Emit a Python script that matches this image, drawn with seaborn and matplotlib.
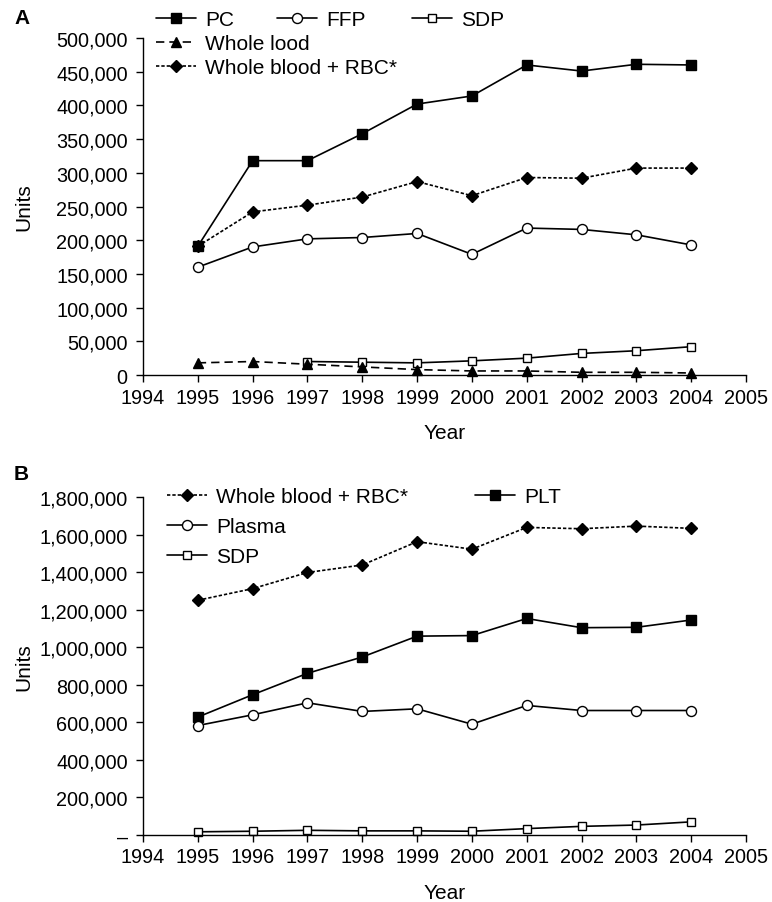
import numpy as np
import pandas as pd
import matplotlib
matplotlib.use("Agg")
import matplotlib.pyplot as plt
import seaborn as sns
from matplotlib.lines import Line2D
from matplotlib.ticker import FuncFormatter

years = [1995, 1996, 1997, 1998, 1999, 2000, 2001, 2002, 2003, 2004]

# Panel A
a_pc = [191000, 318000, 318000, 358000, 402000, 414000, 460000, 451000, 461000, 460000]
a_ffp = [160000, 190000, 202000, 204000, 210000, 179000, 218000, 216000, 208000, 193000]
a_sdp_years = [1997, 1998, 1999, 2000, 2001, 2002, 2003, 2004]
a_sdp = [20000, 19000, 18000, 21000, 25000, 32000, 36000, 42000]
a_whole = [18000, 20000, 16000, 12000, 8000, 6000, 6000, 4000, 4000, 3000]
a_wbrbc = [191000, 242000, 252000, 264000, 287000, 266000, 293000, 292000, 307000, 307000]

# Panel B
b_wbrbc = [1250000, 1312000, 1398000, 1438000, 1562000, 1522000, 1638000, 1631000, 1645000, 1633000]
b_plt = [628000, 747000, 861000, 948000, 1059000, 1062000, 1153000, 1104000, 1106000, 1145000]
b_plasma = [583000, 640000, 704000, 658000, 672000, 590000, 690000, 663000, 663000, 663000]
b_sdp = [17000, 20000, 25000, 22000, 22000, 20000, 34000, 46000, 53000, 70000]

xticks = list(range(1994, 2006))

sns.set_style("ticks")
plt.rcParams['font.family'] = ['Liberation Sans', 'DejaVu Sans']
for k in ["text.color", "axes.labelcolor", "xtick.color", "ytick.color", "axes.edgecolor"]:
    plt.rcParams[k] = "black"

W, H = 772, 903
fig = plt.figure(figsize=(W / 100, H / 100), dpi=100)
axA = fig.add_axes([143 / W, 1 - 376 / H, 603 / W, 337 / H])
axB = fig.add_axes([143 / W, 1 - 836 / H, 603 / W, 338 / H])

lw = 1.2
FS = 14.3
LFS = 15

STY = {
    "sq_fill": dict(marker="s", markersize=6.8, markerfacecolor="black"),
    "circle": dict(marker="o", markersize=7.2, markerfacecolor="white"),
    "sq_open": dict(marker="s", markersize=6.2, markerfacecolor="white"),
    "tri": dict(marker="^", markersize=7.2, markerfacecolor="black"),
    "dia": dict(marker="D", markersize=6.3, markerfacecolor="black"),
}

dotted = (0, (2, 1.2))
dashed = (0, (5, 3))

def draw(ax, x, y, label, sty, ls):
    df = pd.DataFrame({"Year": x, "Units": y})
    sns.lineplot(data=df, x="Year", y="Units", ax=ax, color="black",
                 markeredgecolor="black", markeredgewidth=1.0, linestyle=ls,
                 linewidth=lw, label=label, clip_on=False, legend=False, **STY[sty])

# Panel A
draw(axA, years, a_pc, "PC", "sq_fill", "-")
draw(axA, years, a_ffp, "FFP", "circle", "-")
draw(axA, a_sdp_years, a_sdp, "SDP", "sq_open", "-")
draw(axA, years, a_whole, "Whole lood", "tri", dashed)
draw(axA, years, a_wbrbc, "Whole blood + RBC*", "dia", dotted)

# Panel B
draw(axB, years, b_wbrbc, "Whole blood + RBC*", "dia", dotted)
draw(axB, years, b_plt, "PLT", "sq_fill", "-")
draw(axB, years, b_plasma, "Plasma", "circle", "-")
draw(axB, years, b_sdp, "SDP", "sq_open", "-")

def style(ax, ymax, step, zero_label):
    ax.set_xlim(1994, 2005)
    ax.set_ylim(0, ymax)
    ax.set_xticks(xticks)
    ax.set_yticks(np.arange(0, ymax + 1, step))
    ax.yaxis.set_major_formatter(FuncFormatter(
        lambda v, p: zero_label if v == 0 else f"{int(v):,}"))
    ax.tick_params(labelsize=FS, length=5, width=1.0, color="black", direction="out")
    ax.tick_params(axis="y", pad=6)
    ax.tick_params(axis="x", pad=4)
    for s in ["top", "right"]:
        ax.spines[s].set_visible(False)
    for s in ["left", "bottom"]:
        ax.spines[s].set_linewidth(1.0)
        ax.spines[s].set_color("black")
    ax.set_xlabel("Year", fontsize=LFS, labelpad=12)
    ax.set_ylabel("Units", fontsize=LFS)
    ax.yaxis.set_label_coords(-0.182, 0.5)

style(axA, 500000, 50000, "0")
style(axB, 1800000, 200000, "–")

def entry(label, sty, ls, px, py):
    s = dict(STY[sty])
    hd = Line2D([], [], color="black", linestyle=ls, linewidth=lw,
                markeredgecolor="black", markeredgewidth=1.0, **s)
    leg = fig.legend([hd], [label], loc="center left",
                     bbox_to_anchor=(px / W, 1 - py / H), frameon=False,
                     fontsize=LFS, handlelength=1.9, handletextpad=0.45,
                     borderaxespad=0, borderpad=0)
    return leg

# Panel A legend
entry("PC", "sq_fill", "-", 156, 21)
entry("FFP", "circle", "-", 277, 21)
entry("SDP", "sq_open", "-", 412, 21)
entry("Whole lood", "tri", dashed, 156, 45)
entry("Whole blood + RBC*", "dia", dotted, 156, 69)

# Panel B legend
entry("Whole blood + RBC*", "dia", dotted, 167, 497.5)
entry("Plasma", "circle", "-", 167, 527.5)
entry("SDP", "sq_open", "-", 167, 557.5)
entry("PLT", "sq_fill", "-", 475, 497.5)

fig.text(14 / W, 1 - 19 / H, "A", fontsize=15, fontweight="bold", va="center", ha="left")
fig.text(14 / W, 1 - 475 / H, "B", fontsize=15, fontweight="bold", va="center", ha="left")

fig.savefig("out.png", dpi=100)
